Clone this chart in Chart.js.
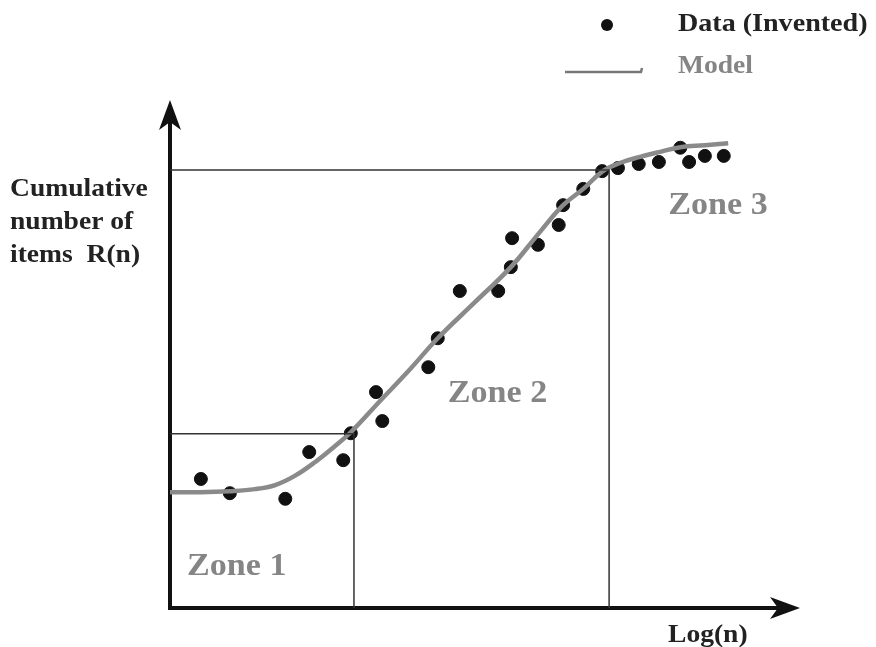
<!DOCTYPE html>
<html>
<head>
<meta charset="utf-8">
<script src="https://cdn.jsdelivr.net/npm/chart.js@4"></script>
<style>
  body { margin: 0; background: #fff; }
  #wrap { width: 876px; height: 647px; }
</style>
</head>
<body>
<div id="wrap"><canvas id="sigmoid" width="876" height="647"></canvas></div>
<script>
// invented observations (x = Log(n), y = R(n))
const dataX = [0.49, 0.95, 1.83, 2.21, 2.75, 2.87, 3.27, 3.37, 4.10, 4.25, 4.60, 5.21, 5.41,
               5.43, 5.84, 6.17, 6.24, 6.56, 6.86, 7.11, 7.44, 7.76, 8.10, 8.24, 8.49, 8.79];
const dataY = [25.4, 22.6, 21.5, 30.7, 29.1, 34.4, 42.5, 36.8, 47.4, 53.1, 62.4, 62.4, 67.1,
               72.8, 71.5, 75.4, 79.3, 82.5, 86.0, 86.6, 87.4, 87.8, 90.6, 87.8, 89.0, 89.0];

// model curve
const modelX = [0, 0.48, 0.95, 1.35, 1.67, 1.98, 2.30, 2.62, 2.87, 3.33, 3.81, 4.25, 4.84,
                5.41, 5.87, 6.24, 6.56, 6.87, 7.14, 7.46, 7.78, 8.10, 8.49, 8.86];
const modelY = [22.8, 22.8, 23.0, 23.4, 24.2, 26.0, 28.7, 31.9, 34.6, 40.7, 47.0, 53.1, 60.2,
                67.1, 74.0, 79.3, 82.5, 86.0, 87.6, 88.8, 89.8, 90.7, 91.1, 91.5];

// zone boundaries (end of zone 1, end of zone 2)
const zoneEndX = [2.92, 6.97];
const zoneEndY = [34.3, 86.2];
const zoneNames = ['Zone 1', 'Zone 2', 'Zone 3'];
const zoneLabelX = [0.27, 4.41, 7.91];
const zoneLabelY = [6.5, 40.5, 77.5];

const serif = '"Liberation Serif", "DejaVu Serif", serif';

function pts(xs, ys) {
  return xs.map((x, i) => ({ x: x, y: ys[i] }));
}

function boundary(i) {
  return [{ x: 0, y: zoneEndY[i] }, { x: zoneEndX[i], y: zoneEndY[i] }, { x: zoneEndX[i], y: 0 }];
}

// text drawn a little wider than Liberation Serif, like the reference face
function wideText(ctx, text, x, y, stretch) {
  ctx.save();
  ctx.translate(x, y);
  ctx.scale(stretch, 1);
  ctx.fillText(text, 0, 0);
  ctx.restore();
}

const decor = {
  id: 'decor',
  beforeDatasetsDraw(chart) {
    const ctx = chart.ctx;
    const sx = chart.scales.x, sy = chart.scales.y;
    const x0 = sx.getPixelForValue(0), y0 = sy.getPixelForValue(0);
    const xEnd = sx.getPixelForValue(10), yEnd = sy.getPixelForValue(100);
    ctx.save();
    ctx.strokeStyle = '#111';
    ctx.fillStyle = '#111';
    ctx.lineWidth = 4;
    ctx.beginPath();
    ctx.moveTo(x0, y0 + 2);
    ctx.lineTo(x0, yEnd + 14);
    ctx.moveTo(x0 - 2, y0);
    ctx.lineTo(xEnd - 14, y0);
    ctx.stroke();
    // arrow heads
    ctx.beginPath();
    ctx.moveTo(x0, yEnd);
    ctx.lineTo(x0 - 11, yEnd + 30);
    ctx.lineTo(x0, yEnd + 22);
    ctx.lineTo(x0 + 11, yEnd + 30);
    ctx.closePath();
    ctx.fill();
    ctx.beginPath();
    ctx.moveTo(xEnd, y0);
    ctx.lineTo(xEnd - 30, y0 - 11);
    ctx.lineTo(xEnd - 22, y0);
    ctx.lineTo(xEnd - 30, y0 + 11);
    ctx.closePath();
    ctx.fill();
    ctx.restore();
  },
  afterDraw(chart) {
    const ctx = chart.ctx;
    const sx = chart.scales.x, sy = chart.scales.y;
    ctx.save();
    ctx.textBaseline = 'alphabetic';
    ctx.textAlign = 'left';

    // zone labels
    ctx.fillStyle = '#858585';
    ctx.font = 'bold 31px ' + serif;
    zoneNames.forEach((t, i) => {
      wideText(ctx, t, sx.getPixelForValue(zoneLabelX[i]), sy.getPixelForValue(zoneLabelY[i]), 1.1);
    });

    // axis titles
    ctx.fillStyle = '#222';
    ctx.font = 'bold 26px ' + serif;
    wideText(ctx, 'Cumulative', 10, 196, 1.06);
    wideText(ctx, 'number of', 10, 229, 1.06);
    wideText(ctx, 'items  R(n)', 10, 262, 1.06);
    wideText(ctx, 'Log(n)', 668, 642, 1.06);

    // legend
    wideText(ctx, 'Data (Invented)', 678, 31, 1.08);
    ctx.beginPath();
    ctx.arc(607, 25, 6, 0, Math.PI * 2);
    ctx.fillStyle = '#111';
    ctx.fill();
    ctx.fillStyle = '#858585';
    wideText(ctx, 'Model', 678, 73, 1.06);
    ctx.strokeStyle = '#777';
    ctx.lineWidth = 2.5;
    ctx.beginPath();
    ctx.moveTo(565, 72);
    ctx.lineTo(641, 72);
    ctx.lineTo(642, 68);
    ctx.stroke();
    ctx.restore();
  }
};

new Chart(document.getElementById('sigmoid'), {
  type: 'scatter',
  data: {
    datasets: [
      {
        label: 'Zone 1 boundary',
        type: 'line',
        data: boundary(0),
        borderColor: '#333',
        borderWidth: 1.5,
        pointRadius: 0,
        fill: false,
        tension: 0
      },
      {
        label: 'Zone 2 boundary',
        type: 'line',
        data: boundary(1),
        borderColor: '#333',
        borderWidth: 1.5,
        pointRadius: 0,
        fill: false,
        tension: 0
      },
      {
        label: 'Model',
        type: 'line',
        data: pts(modelX, modelY),
        borderColor: '#8a8a8a',
        borderWidth: 4.5,
        pointRadius: 0,
        fill: false,
        tension: 0.4
      },
      {
        label: 'Data (Invented)',
        data: pts(dataX, dataY),
        backgroundColor: '#111',
        borderColor: '#111',
        pointRadius: 6.5,
        pointHoverRadius: 6.5
      }
    ]
  },
  options: {
    responsive: false,
    animation: false,
    layout: { padding: { left: 170, right: 76, top: 100, bottom: 39 } },
    plugins: {
      legend: { display: false },
      tooltip: { enabled: false }
    },
    scales: {
      x: { type: 'linear', min: 0, max: 10, display: false },
      y: { type: 'linear', min: 0, max: 100, display: false }
    }
  },
  plugins: [decor]
});
</script>
</body>
</html>
